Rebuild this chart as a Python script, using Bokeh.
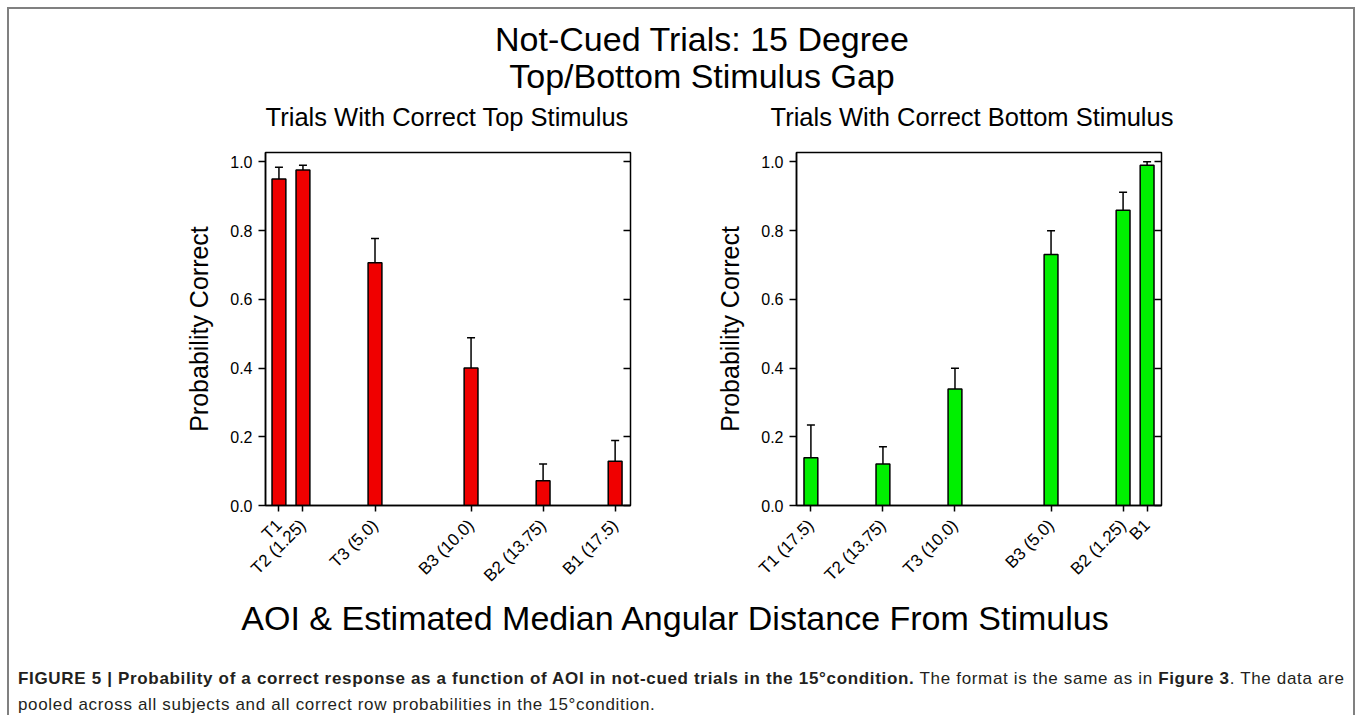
import math
from bokeh.plotting import figure
from bokeh.layouts import column, row
from bokeh.models import (Div, FixedTicker, LinearAxis, Range1d, ColumnDataSource,
                          Whisker, TeeHead, CustomJSTickFormatter, PrintfTickFormatter)
from bokeh.embed import file_html
from bokeh.resources import INLINE

FONT = "Liberation Sans"

# ---- text ----
main_title_lines = ["Not-Cued Trials: 15 Degree", "Top/Bottom Stimulus Gap"]
x_label = "AOI & Estimated Median Angular Distance From Stimulus"
y_label = "Probability Correct"
caption_bold = "FIGURE 5 | Probability of a correct response as a function of AOI in not-cued trials in the 15\u00b0condition."
caption_mid = " The format is the same as in "
caption_ref = "Figure 3"
caption_end = ". The data are"
caption_line2 = "pooled across all subjects and all correct row probabilities in the 15\u00b0condition."

# ---- data: left panel ----
left_title = "Trials With Correct Top Stimulus"
left_labels = ["T1", "T2 (1.25)", "T3 (5.0)", "B3 (10.0)", "B2 (13.75)", "B1 (17.5)"]
left_pos = [0.0, 1.25, 5.0, 10.0, 13.75, 17.5]
left_mean = [0.950, 0.976, 0.706, 0.400, 0.072, 0.129]
left_upper = [0.984, 0.990, 0.777, 0.488, 0.121, 0.189]

# ---- data: right panel ----
right_title = "Trials With Correct Bottom Stimulus"
right_labels = ["T1 (17.5)", "T2 (13.75)", "T3 (10.0)", "B3 (5.0)", "B2 (1.25)", "B1"]
right_pos = [17.5, 13.75, 10.0, 5.0, 1.25, 0.0]
right_mean = [0.139, 0.121, 0.339, 0.730, 0.859, 0.990]
right_upper = [0.234, 0.171, 0.399, 0.799, 0.911, 1.000]

y_ticks = [0.0, 0.2, 0.4, 0.6, 0.8, 1.0]

TOTAL_W = 1344
HEAD_H = 133


def panel(pos, mean, upper, labels, color, x_range, border_left, border_right):
    p = figure(output_backend="svg", toolbar_location=None,
               frame_width=365, frame_height=353,
               min_border_left=border_left, min_border_right=border_right,
               min_border_top=10, min_border_bottom=95,
               x_range=x_range, y_range=Range1d(0, 1.027))
    p.grid.visible = False
    p.outline_line_color = "black"
    p.outline_line_width = 1.5
    p.outline_line_alpha = 1.0

    src = ColumnDataSource(dict(x=pos, top=mean, upper=upper))
    p.vbar(x="x", top="top", bottom=0, width=0.72, source=src,
           fill_color=color, line_color="black", line_width=1.5)
    w = Whisker(base="x", lower="top", upper="upper", source=src, dimension="height",
                line_color="black", line_width=1.5, lower_head=None,
                upper_head=TeeHead(size=8, line_color="black", line_width=1.5))
    p.add_layout(w)

    xa = p.xaxis[0]
    xa.ticker = FixedTicker(ticks=pos)
    xa.major_label_overrides = {float(k): v for k, v in zip(pos, labels)}
    xa.major_label_orientation = math.pi / 4
    xa.major_label_text_font = FONT
    xa.major_label_text_font_size = "17px"
    xa.major_label_text_color = "black"
    xa.major_label_standoff = 11
    xa.major_tick_out = 6
    xa.major_tick_in = 0
    xa.major_tick_line_width = 1.5
    xa.minor_tick_line_color = None
    xa.axis_line_width = 1.5

    ya = p.yaxis[0]
    ya.ticker = FixedTicker(ticks=y_ticks)
    ya.formatter = PrintfTickFormatter(format="%.1f")
    ya.major_label_text_font = FONT
    ya.major_label_text_font_size = "16px"
    ya.major_label_text_color = "black"
    ya.major_label_standoff = 6
    ya.major_tick_out = 7
    ya.major_tick_in = 0
    ya.major_tick_line_width = 1.5
    ya.minor_tick_line_color = None
    ya.axis_line_width = 1.5
    ya.axis_label = y_label
    ya.axis_label_text_font = FONT
    ya.axis_label_text_font_size = "25px"
    ya.axis_label_text_font_style = "normal"
    ya.axis_label_text_color = "black"
    ya.axis_label_standoff = 14

    ra = LinearAxis(ticker=FixedTicker(ticks=y_ticks),
                    formatter=CustomJSTickFormatter(code="return ''"),
                    major_tick_in=7, major_tick_out=0, major_tick_line_width=1.5,
                    axis_line_color=None, minor_tick_line_color=None,
                    major_label_standoff=0)
    p.add_layout(ra, "right")
    return p


left = panel(left_pos, left_mean, left_upper, left_labels, "#F00000",
             Range1d(-0.7, 18.3), 256, 83)
right = panel(right_pos, right_mean, right_upper, right_labels, "#00F000",
              Range1d(18.25, -0.75), 83, 190)

head_div = Div(
    text=(f'<div style="position:relative;width:{TOTAL_W}px;height:{HEAD_H}px;'
          f'font-family:\'{FONT}\';color:#000;">'
          f'<div style="position:absolute;left:693px;top:12px;transform:translateX(-50%);text-align:center;'
          f'font-size:34px;line-height:37px;white-space:nowrap">'
          f'{main_title_lines[0]}<br>{main_title_lines[1]}</div>'
          f'<div style="position:absolute;left:438px;top:108px;transform:translate(-50%,-50%);'
          f'font-size:25.5px;line-height:30px;white-space:nowrap">{left_title}</div>'
          f'<div style="position:absolute;left:963px;top:108px;transform:translate(-50%,-50%);'
          f'font-size:25.5px;line-height:30px;white-space:nowrap">{right_title}</div>'
          f'</div>'),
    width=TOTAL_W, height=HEAD_H, margin=0)

xlabel_div = Div(
    text=(f'<div style="position:relative;width:{TOTAL_W}px;height:40px;font-family:\'{FONT}\';'
          f'color:#000;"><div style="position:absolute;left:666px;top:2px;transform:translateX(-50%);'
          f'font-size:34px;line-height:32px;white-space:nowrap">'
          f'{x_label.replace("&", "&amp;")}</div></div>'),
    width=TOTAL_W, height=40, margin=0)

caption_div = Div(
    text=(f'<div style="font-family:\'{FONT}\';font-size:17px;letter-spacing:0.67px;line-height:26px;'
          f'padding-left:9px;padding-top:26px;color:#231f20;white-space:nowrap">'
          f'<b>{caption_bold}</b>{caption_mid}<b>{caption_ref}</b>{caption_end}<br>'
          f'{caption_line2}</div>'),
    width=TOTAL_W, height=75, margin=0)

layout = column(head_div, row(left, right), xlabel_div, caption_div,
                margin=(7, 0, 0, 7),
                styles={"border-top": "2px solid #808080",
                        "border-left": "2px solid #808080",
                        "border-right": "2px solid #808080"})

open("out.html", "w").write(file_html(layout, INLINE))
